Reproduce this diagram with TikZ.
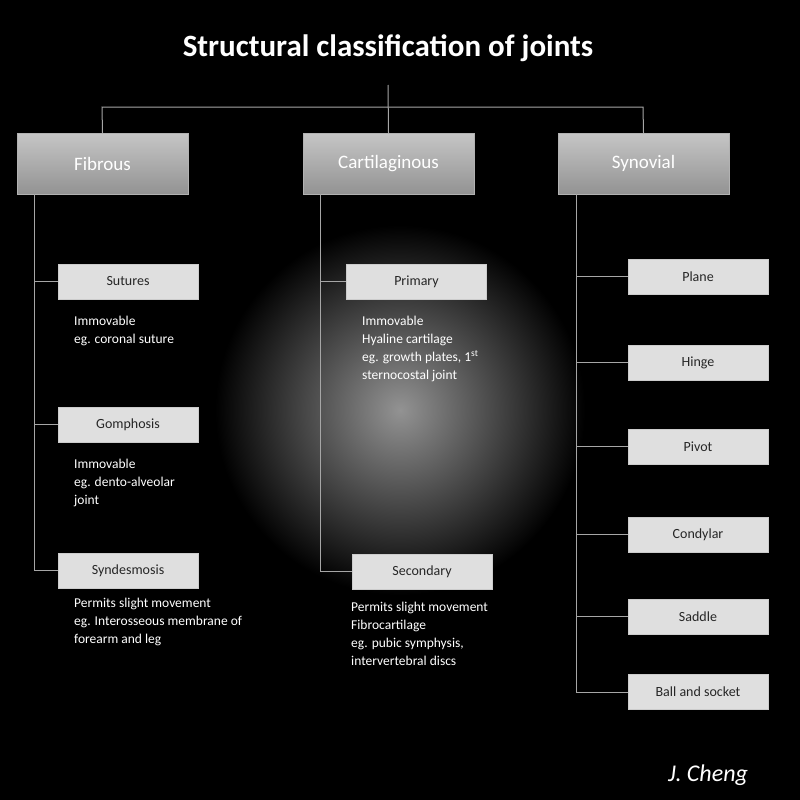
\documentclass[tikz,border=0pt]{standalone}
\usepackage{fontspec}
\setmainfont{Carlito}
\usetikzlibrary{shadings}
\begin{document}
\begin{tikzpicture}[x=1pt,y=-1pt,
  big/.style={draw=gray!60,top color=gray!45,bottom color=gray!85!white,minimum width=171pt,minimum height=61pt,font=\fontsize{19}{21}\selectfont,text=white,inner sep=0pt},
  small/.style={draw=gray!40,fill=gray!25,minimum width=140pt,minimum height=35pt,font=\fontsize{14}{16}\selectfont,text=black!85,inner sep=0pt},
  body/.style={anchor=north west,align=left,text=white,font=\fontsize{13.5}{18}\selectfont,inner sep=0pt},
  ln/.style={draw=gray!70,line width=1pt}]
\fill[black] (0,0) rectangle (800,800);
\shade[inner color=gray!85,outer color=black] (400,410) circle (185);
\useasboundingbox (0,0) rectangle (800,800);
\node[text=white,font=\bfseries\fontsize{31}{34}\selectfont] (title) at (388,48) {Structural classification of joints};
\node[big] (fib) at (102.5,163.5) {Fibrous};
\node[big] (car) at (388.5,163.5) {Cartilaginous};
\node[big] (syn) at (643.5,163.5) {Synovial};
\coordinate (top) at (388,85);
\coordinate (hl) at (102,107);
\coordinate (hr) at (643,107);
\draw[ln] (top) -- (car.north);
\draw[ln] (fib.north) -- (hl) -- (hr) -- (syn.north);
% fibrous
\node[small] (sut) at (128,281.5) {Sutures};
\node[small] (gom) at (128,424.5) {Gomphosis};
\node[small] (syd) at (128,570.5) {Syndesmosis};
\coordinate (f0) at (34,194);
\draw[ln] (f0) |- (syd.west);
\draw[ln] (f0 |- sut.west) -- (sut.west);
\draw[ln] (f0 |- gom.west) -- (gom.west);
\node[body] (t1) at (74,316) {Immovable\\eg. coronal suture};
\node[body] (t2) at (74,459) {Immovable\\eg. dento-alveolar\\joint};
\node[body] (t3) at (74,598) {Permits slight movement\\eg. Interosseous membrane of\\forearm and leg};
% cartilaginous
\node[small] (pri) at (416.5,281.5) {Primary};
\node[small] (sec) at (422,571.5) {Secondary};
\coordinate (c0) at (320,194);
\draw[ln] (c0) |- (sec.west);
\draw[ln] (c0 |- pri.west) -- (pri.west);
\node[body] (t4) at (362,316) {Immovable\\Hyaline cartilage\\eg. growth plates, 1\textsuperscript{st}\\sternocostal joint};
\node[body] (t5) at (351,602) {Permits slight movement\\Fibrocartilage\\eg. pubic symphysis,\\intervertebral discs};
% synovial
\node[small] (pla) at (698,276.5) {Plane};
\node[small] (hin) at (698,362.5) {Hinge};
\node[small] (piv) at (698,446.5) {Pivot};
\node[small] (con) at (698,534.5) {Condylar};
\node[small] (sad) at (698,616.5) {Saddle};
\node[small] (bal) at (698,692) {Ball and socket};
\coordinate (s0) at (576,194);
\draw[ln] (s0) |- (bal.west);
\foreach \n in {pla,hin,piv,con,sad} \draw[ln] (s0 |- \n.west) -- (\n.west);
\node[text=white,font=\itshape\fontsize{24}{26}\selectfont] (sig) at (708,775) {J. Cheng};
\end{tikzpicture}
\end{document}
